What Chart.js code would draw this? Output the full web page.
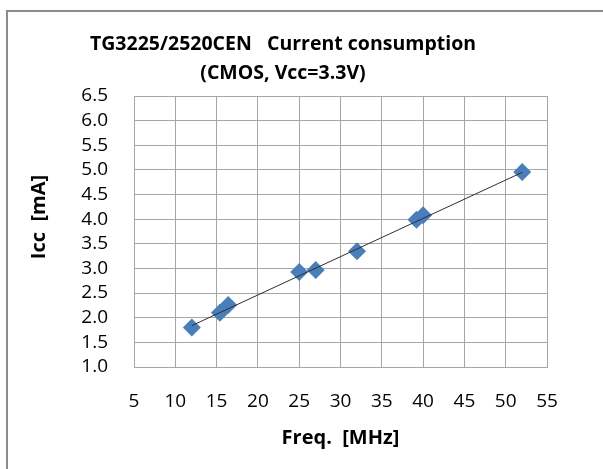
<!DOCTYPE html>
<html><head><meta charset="utf-8">
<script src="https://cdn.jsdelivr.net/npm/chart.js@4/dist/chart.umd.min.js"></script>
<style>html,body{margin:0;padding:0;background:#fff;}#wrap{width:603px;height:469px;position:relative;}</style>
</head><body>
<div id="wrap"><canvas id="c" width="603" height="469"></canvas></div>
<script>
// ---- data ----
const titleLines = ['TG3225/2520CEN   Current consumption', '(CMOS, Vcc=3.3V)'];
const xAxisTitle = 'Freq.  [MHz]';
const yAxisTitle = 'Icc  [mA]';
const freqMHz = [12, 15.4, 16.4, 25, 27, 32, 39.2, 40, 52];
const iccMA   = [1.80, 2.10, 2.26, 2.93, 2.97, 3.35, 3.99, 4.08, 4.96];
const trendFreq = [12, 52];
const trendIcc  = [1.84, 4.95];
const xTickValues = [5, 10, 15, 20, 25, 30, 35, 40, 45, 50, 55];
const yTickValues = [1.0, 1.5, 2.0, 2.5, 3.0, 3.5, 4.0, 4.5, 5.0, 5.5, 6.0, 6.5];

const FONT = "'Open Sans', 'DejaVu Sans', sans-serif";
const GRID = '#a6a6a6';

const framePlugin = {
  id: 'frameTitle',
  beforeDraw(chart) {
    const ctx = chart.ctx;
    ctx.save();
    ctx.fillStyle = '#fff';
    ctx.fillRect(0, 0, chart.width, chart.height);
    ctx.strokeStyle = '#8c8c8c';
    ctx.lineWidth = 2;
    ctx.beginPath();
    ctx.moveTo(7, chart.height);
    ctx.lineTo(7, 11);
    ctx.lineTo(chart.width, 11);
    ctx.stroke();
    ctx.restore();
  },
  afterDraw(chart) {
    const ctx = chart.ctx;
    ctx.save();
    ctx.fillStyle = '#000';
    ctx.font = 'bold 19.5px ' + FONT;
    ctx.textAlign = 'center';
    ctx.textBaseline = 'middle';
    ctx.fillText(titleLines[0], 283, 44);
    ctx.fillText(titleLines[1], 283, 73);
    // y axis title
    ctx.font = 'bold 20px ' + FONT;
    ctx.translate(39, 217);
    ctx.rotate(-Math.PI / 2);
    ctx.fillText(yAxisTitle, 0, 0);
    ctx.restore();
  }
};

new Chart(document.getElementById('c'), {
  type: 'scatter',
  data: {
    datasets: [
      {
        label: 'Icc',
        data: freqMHz.map((f, i) => ({x: f, y: iccMA[i]})),
        pointStyle: 'rectRot',
        pointRadius: 9,
        pointHoverRadius: 9,
        backgroundColor: '#4a7ebb',
        borderColor: '#4a7ebb',
        borderWidth: 0,
        order: 2
      },
      {
        label: 'trend',
        type: 'line',
        data: trendFreq.map((f, i) => ({x: f, y: trendIcc[i]})),
        borderColor: '#2e2e2e',
        borderWidth: 1,
        pointRadius: 0,
        fill: false,
        order: 1
      }
    ]
  },
  options: {
    responsive: false,
    animation: false,
    layout: {padding: {top: 96, left: 0, right: 56, bottom: 0}},
    plugins: {legend: {display: false}, tooltip: {enabled: false}, title: {display: false}},
    scales: {
      x: {
        type: 'linear', min: 5, max: 55,
        afterBuildTicks: s => { s.ticks = xTickValues.map(v => ({value: v})); },
        afterFit: s => { s.height = 469 - 367; },
        grid: {color: GRID, drawTicks: false, lineWidth: 1},
        border: {color: GRID, width: 1},
        ticks: {color: '#000', font: {family: FONT, size: 19}, padding: 23, maxRotation: 0, autoSkip: false},
        title: {display: true, text: xAxisTitle, color: '#000', font: {family: FONT, size: 20, weight: 'bold'}, padding: {top: 0, bottom: 19}}
      },
      y: {
        type: 'linear', min: 1, max: 6.5,
        afterBuildTicks: s => { s.ticks = yTickValues.map(v => ({value: v})); },
        afterFit: s => { s.width = 134; },
        grid: {color: GRID, drawTicks: false, lineWidth: 1},
        border: {color: GRID, width: 1},
        ticks: {color: '#000', font: {family: FONT, size: 19}, padding: 26, autoSkip: false,
                callback: v => Number(v).toFixed(1)},
        title: {display: false}
      }
    }
  },
  plugins: [framePlugin]
});
</script>
</body></html>
